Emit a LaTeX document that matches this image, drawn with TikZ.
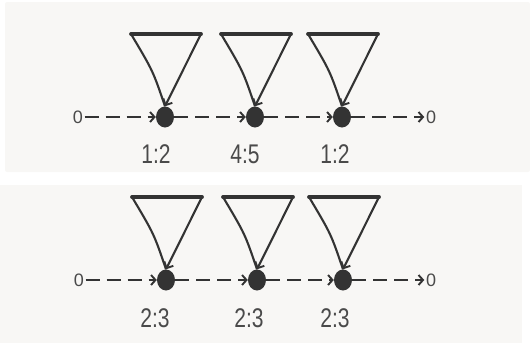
\documentclass[tikz,border=0pt]{standalone}
\usepackage{fontspec}
\setmainfont{Liberation Sans}
\usetikzlibrary{arrows.meta,shapes.geometric,calc}
\definecolor{panelbg}{HTML}{F8F7F5}
\definecolor{ink}{HTML}{333333}
\definecolor{txt}{HTML}{4A4A4A}
\newcommand\nrwtxt[1]{\scalebox{0.78}[1]{#1}}
\newcommand\selfloopat[1]{%
  \coordinate (#1tl) at ($(#1)+(-34,-83)$);
  \coordinate (#1tr) at ($(#1)+(36,-83)$);
  \draw[loopline] (#1.north) .. controls ($(#1)+(-12,-46)$) .. (#1tl) -- (#1tr) -- (#1.north);
  \draw[topbar] (#1tl) -- (#1tr);
}
\begin{document}
\begin{tikzpicture}[x=1pt,y=-1pt,
  state/.style={ellipse,fill=ink,minimum width=18pt,minimum height=21pt,inner sep=0pt},
  endpt/.style={text=txt,font=\fontsize{18}{18}\selectfont,inner sep=1.5pt},
  ratio/.style={text=txt,font=\fontsize{27}{27}\selectfont,inner sep=0pt},
  flow/.style={draw=ink,line width=1.9pt,dash pattern=on 14pt off 7pt,
    -{Straight Barb[length=4.5pt,width=10pt,line width=1.9pt]}},
  loopline/.style={draw=ink,line width=2.1pt,rounded corners=2pt,
    -{Straight Barb[length=5pt,width=10pt,line width=1.9pt]}},
  topbar/.style={draw=ink,line width=3.8pt,line cap=round}]
\useasboundingbox (0,0) rectangle (530,343);
\fill[panelbg,rounded corners=2pt] (5,2) rectangle (530,172);
\fill[panelbg] (0,185) rectangle (522,343);
% top row
\node[endpt] (a0) at (78,117) {0};
\node[state] (a1) at (165,117) {};
\node[state] (a2) at (255,117) {};
\node[state] (a3) at (342,117) {};
\node[endpt] (a4) at (431,117) {0};
\draw[flow] (a0) -- (a1);
\draw[flow] (a1) -- (a2);
\draw[flow] (a2) -- (a3);
\draw[flow] (a3) -- (a4);
\selfloopat{a1}
\selfloopat{a2}
\selfloopat{a3}
\node[ratio] (la1) at (156,154) {\nrwtxt{1:2}};
\node[ratio] (la2) at (245,154) {\nrwtxt{4:5}};
\node[ratio] (la3) at (335,154) {\nrwtxt{1:2}};
% bottom row
\node[endpt] (b0) at (79,280) {0};
\node[state] (b1) at (166,280) {};
\node[state] (b2) at (257,280) {};
\node[state] (b3) at (343,280) {};
\node[endpt] (b4) at (431,280) {0};
\draw[flow] (b0) -- (b1);
\draw[flow] (b1) -- (b2);
\draw[flow] (b2) -- (b3);
\draw[flow] (b3) -- (b4);
\selfloopat{b1}
\selfloopat{b2}
\selfloopat{b3}
\node[ratio] (lb1) at (155,318) {\nrwtxt{2:3}};
\node[ratio] (lb2) at (249,318) {\nrwtxt{2:3}};
\node[ratio] (lb3) at (335,318) {\nrwtxt{2:3}};
\end{tikzpicture}
\end{document}
